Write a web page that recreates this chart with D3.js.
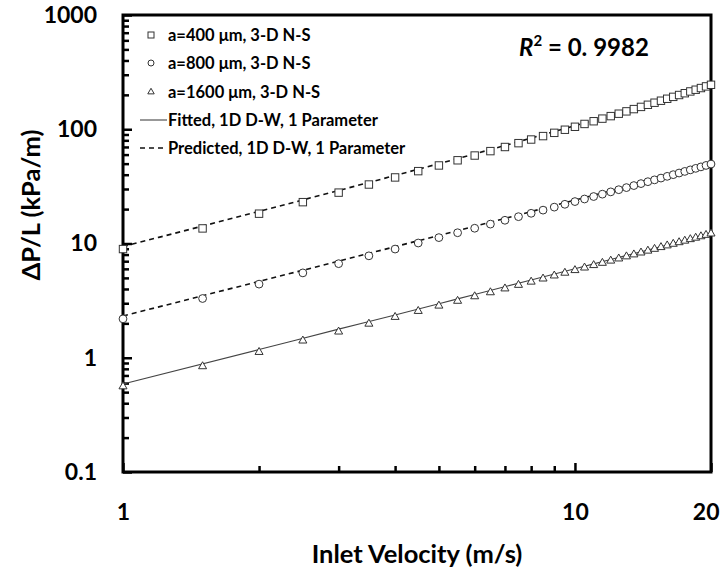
<!DOCTYPE html>
<html><head><meta charset="utf-8">
<script src="https://cdn.jsdelivr.net/npm/d3@7"></script>
<style>
body{margin:0;background:#fff;}
svg{display:block;}
text{font-family:Lato,"Open Sans",sans-serif;font-weight:bold;fill:#000;}
</style></head><body>
<svg id="chart" width="722" height="576"></svg>
<script>
// ---- data ----
const velocity = [1,1.5,2,2.5,3,3.5,4,4.5,5,5.5,6,6.5,7,7.5,8,8.5,9,9.5,10,10.5,11,11.5,12,12.5,13,13.5,14,14.5,15,15.5,16,16.5,17,17.5,18,18.5,19,19.5,20];
const ns400 = [8.94,13.55,18.24,23.01,27.88,32.83,37.86,42.99,48.2,53.5,58.88,64.36,69.92,75.56,81.3,87.12,93.02,99.02,105.1,111.27,117.52,123.87,130.3,136.81,143.42,150.11,156.88,163.75,170.7,177.74,184.86,192.08,199.38,206.76,214.24,221.8,229.44,237.18,245.0];
const ns800 = [2.19,3.30,4.41,5.53,6.66,7.80,8.94,10.10,11.26,12.42,13.60,14.78,15.97,17.17,18.38,19.59,20.81,22.04,23.28,24.52,25.77,27.03,28.30,29.57,30.85,32.14,33.44,34.75,36.06,37.38,38.71,40.04,41.39,42.74,44.09,45.46,46.83,48.22,49.6];
const ns1600 = [0.56,0.84,1.12,1.41,1.69,1.98,2.27,2.56,2.85,3.14,3.44,3.73,4.03,4.33,4.62,4.92,5.23,5.53,5.83,6.14,6.45,6.75,7.06,7.37,7.69,8.00,8.31,8.63,8.95,9.27,9.59,9.91,10.23,10.55,10.88,11.20,11.53,11.86,12.19];
const lineVelocity = [1,2,3,4,5,6,8,10,12,14,16,18,20];
const pred400 = [9.40,19.10,29.10,39.40,50.0,60.9,83.6,107.5,132.6,158.9,186.4,215.1,245];
const pred800 = [2.32,4.66,7.01,9.38,11.77,14.17,19.03,23.96,28.95,34.01,39.15,44.34,49.6];
const fit1600 = [0.59,1.18,1.78,2.37,2.97,3.58,4.79,6.01,7.24,8.47,9.72,10.98,12.25];
const xMajorTicks = [1,10,20];
const xMinorTicks = [2,3,4,5,6,7,8,9];
const yMajorTicks = [0.1,1,10,100,1000];
const legendLabels = ["a=400 μm, 3-D N-S","a=800 μm, 3-D N-S","a=1600 μm, 3-D N-S","Fitted, 1D D-W, 1 Parameter","Predicted, 1D D-W, 1 Parameter"];
const xTitle = "Inlet Velocity (m/s)";
const yTitle = "ΔP/L (kPa/m)";

// ---- layout ----
const svg = d3.select("#chart");
const L = 123, T = 15, R = 711, B = 472;
const x = d3.scaleLog().domain([1,20]).range([L,R]);
const y = d3.scaleLog().domain([0.1,1000]).range([B,T]);

const yMinor = [];
for (let e=-1; e<3; e++) for (let k=2; k<=9; k++) yMinor.push(k*Math.pow(10,e));

function styleAxis(g){
  g.select(".domain").remove();
  g.selectAll(".tick line").attr("stroke","#000").attr("stroke-width",2.5);
}
// x ticks (inward)
svg.append("g").attr("transform",`translate(0,${B})`)
  .call(d3.axisBottom(x).tickValues(xMinorTicks).tickSize(-6).tickFormat(""))
  .call(styleAxis);
svg.append("g").attr("transform",`translate(0,${B})`)
  .call(d3.axisBottom(x).tickValues(xMajorTicks).tickSize(-9).tickPadding(32).tickFormat(d3.format("d")))
  .call(styleAxis)
  .call(g=>g.selectAll("text").attr("font-size",23).attr("font-family","Lato").attr("font-weight","bold").attr("fill","#000")
     .attr("text-anchor",d=>d===20?"end":"middle").attr("dx",d=>d===20?8:0));
// y ticks
svg.append("g").attr("transform",`translate(${L},0)`)
  .call(d3.axisLeft(y).tickValues(yMinor).tickSize(-6).tickFormat(""))
  .call(styleAxis);
svg.append("g").attr("transform",`translate(${L},0)`)
  .call(d3.axisLeft(y).tickValues(yMajorTicks).tickSize(-9).tickPadding(26).tickFormat(d=>d<1?"0.1":d3.format("d")(d)))
  .call(styleAxis)
  .call(g=>g.selectAll("text").attr("font-size",23).attr("font-family","Lato").attr("font-weight","bold").attr("fill","#000"));

// frame
svg.append("rect").attr("x",L).attr("y",T).attr("width",R-L).attr("height",B-T)
  .attr("fill","none").attr("stroke","#000").attr("stroke-width",3);

// lines
const line = d3.line().x((d,i)=>x(lineVelocity[i])).y(d=>y(d)).curve(d3.curveMonotoneX);
svg.append("path").datum(pred400).attr("d",line).attr("fill","none").attr("stroke","#111").attr("stroke-width",1.6).attr("stroke-dasharray","5,4");
svg.append("path").datum(pred800).attr("d",line).attr("fill","none").attr("stroke","#111").attr("stroke-width",1.6).attr("stroke-dasharray","5,4");
svg.append("path").datum(fit1600).attr("d",line).attr("fill","none").attr("stroke","#444").attr("stroke-width",1.1);

// markers
const mk = "#333";
svg.append("g").selectAll("rect").data(ns400).join("rect")
  .attr("x",(d,i)=>x(velocity[i])-3.7).attr("y",d=>y(d)-3.7).attr("width",7.4).attr("height",7.4)
  .attr("fill","#fff").attr("stroke",mk).attr("stroke-width",1);
svg.append("g").selectAll("circle").data(ns800).join("circle")
  .attr("cx",(d,i)=>x(velocity[i])).attr("cy",d=>y(d)).attr("r",3.9)
  .attr("fill","#fff").attr("stroke",mk).attr("stroke-width",1);
const tri = d3.symbol().type(d3.symbolTriangle).size(28);
svg.append("g").selectAll("path").data(ns1600).join("path")
  .attr("transform",(d,i)=>`translate(${x(velocity[i])},${y(d)})`).attr("d",tri)
  .attr("fill","#fff").attr("stroke",mk).attr("stroke-width",1);

// legend
const lg = svg.append("g");
const rows = [35,63,92,120,148];
lg.append("rect").attr("x",148).attr("y",rows[0]-3).attr("width",6).attr("height",6).attr("fill","#fff").attr("stroke",mk);
lg.append("circle").attr("cx",151).attr("cy",rows[1]).attr("r",3).attr("fill","#fff").attr("stroke",mk);
lg.append("path").attr("transform",`translate(151,${rows[2]})`).attr("d",d3.symbol().type(d3.symbolTriangle).size(18)).attr("fill","#fff").attr("stroke",mk);
lg.append("line").attr("x1",140).attr("x2",167).attr("y1",rows[3]).attr("y2",rows[3]).attr("stroke","#444").attr("stroke-width",1.1);
lg.append("line").attr("x1",140).attr("x2",167).attr("y1",rows[4]).attr("y2",rows[4]).attr("stroke","#111").attr("stroke-width",1.6).attr("stroke-dasharray","5,4");
lg.selectAll("text").data(legendLabels).join("text")
  .attr("x",168).attr("y",(d,i)=>rows[i]).attr("dy","0.36em")
  .attr("font-size",16.5).text(d=>d);

// R^2 annotation
const r2 = svg.append("text").attr("x",519).attr("y",56).attr("font-family","'Liberation Serif',serif").attr("font-size",24);
r2.append("tspan").attr("font-style","italic").text("R");
r2.append("tspan").attr("font-size",15).attr("dy",-10).text("2");
r2.append("tspan").attr("dy",10).text(" = 0. 9982");

// titles
svg.append("text").attr("x",417).attr("y",563).attr("text-anchor","middle").attr("font-size",25.5).text(xTitle);
svg.append("text").attr("transform","translate(40,205) rotate(-90)").attr("text-anchor","middle").attr("font-size",25.5).text(yTitle);
</script></body></html>
